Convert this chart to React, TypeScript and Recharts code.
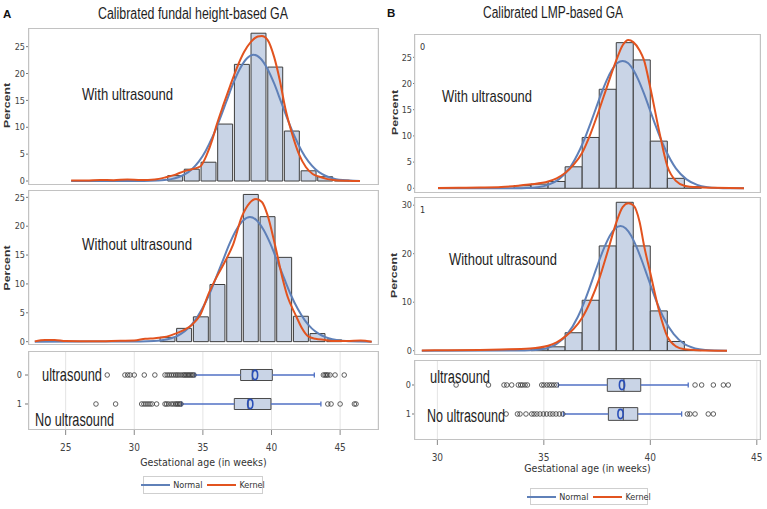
import React from "react";
import {
  ComposedChart,
  Bar,
  Line,
  Scatter,
  XAxis,
  YAxis,
  CartesianGrid,
  ReferenceArea,
  ReferenceLine,
  Legend,
} from "recharts";

const NARROW = "'Liberation Sans Narrow','Arial Narrow','DejaVu Sans Condensed','Liberation Sans',sans-serif";
const SANS = "'Liberation Sans',Arial,sans-serif";

const BAR_FILL = "#c9d4e6";
const BAR_STROKE = "#3e3e3e";
const NORMAL_COLOR = "#5f80b8";
const KERNEL_COLOR = "#e2531f";
const WHISKER_COLOR = "#5071c4";
const MEAN_COLOR = "#2a4fb8";
const GRID_COLOR = "#e4e4e4";

// ---------- Panel A: calibrated fundal height-based GA ----------
const aXTicks = [25, 30, 35, 40, 45];
const aXDomain = [22.33, 47.76];
const aBinWidth = 1.2145;

const aWithBinCenters = [32.97, 34.18, 35.4, 36.61, 37.83, 39.04, 40.26, 41.47, 42.69, 43.9, 45.12];
const aWithBinPercent = [1.0, 2.2, 3.5, 10.6, 21.7, 27.5, 21.2, 9.3, 1.9, 0.8, 0.15];
const aWithNormalX = [25.4, 30.7, 31.7, 32.2, 32.7, 33.2, 33.7, 34.2, 34.7, 35.2, 35.7, 36.2, 36.7, 37.2, 37.7, 38.2, 38.7, 39.2, 39.7, 40.2, 40.7, 41.2, 41.7, 42.2, 42.7, 43.2, 43.7, 44.2, 44.7, 45.2, 45.7, 46.45];
const aWithNormalY = [0, 0.01, 0.08, 0.17, 0.35, 0.69, 1.27, 2.2, 3.6, 5.6, 8.2, 11.3, 14.7, 18.1, 20.9, 22.8, 23.5, 22.8, 20.9, 18.1, 14.7, 11.3, 8.2, 5.6, 3.6, 2.2, 1.27, 0.69, 0.35, 0.17, 0.08, 0];
const aWithKernelX = [25.4, 26.5, 27.5, 28.5, 29.5, 30.5, 31.5, 32.3, 33.0, 33.6, 34.2, 34.8, 35.3, 35.7, 36.0, 36.5, 37.0, 37.5, 38.0, 38.5, 39.0, 39.3, 39.7, 40.2, 40.6, 41.0, 41.5, 42.0, 42.5, 43.0, 43.5, 44.0, 44.5, 45.5, 46.45];
const aWithKernelY = [0.1, 0.1, 0.2, 0.15, 0.3, 0.2, 0.3, 0.7, 1.2, 1.8, 2.2, 2.7, 5.0, 7.8, 10.4, 14.2, 17.8, 21.2, 24.0, 25.9, 26.9, 27.0, 26.3, 23.0, 18.8, 13.6, 8.8, 5.0, 2.6, 1.3, 0.8, 0.4, 0.2, 0.05, 0];

const aWithoutBinCenters = [32.41, 33.62, 34.84, 36.05, 37.27, 38.48, 39.7, 40.91, 42.13, 43.34, 44.56];
const aWithoutBinPercent = [0.75, 2.3, 4.3, 9.9, 14.6, 25.5, 21.65, 14.6, 4.4, 1.4, 0.3];
const aWithoutNormalX = [22.75, 30.43, 31.43, 31.93, 32.43, 32.93, 33.43, 33.93, 34.43, 34.93, 35.43, 35.93, 36.43, 36.93, 37.43, 37.93, 38.43, 38.93, 39.43, 39.93, 40.43, 40.93, 41.43, 41.93, 42.43, 42.93, 43.43, 43.93, 44.43, 44.93, 45.43, 46.43, 47.3];
const aWithoutNormalY = [0, 0.02, 0.1, 0.21, 0.41, 0.78, 1.39, 2.3, 3.7, 5.6, 8.0, 10.9, 13.9, 16.9, 19.35, 21.0, 21.6, 21.0, 19.35, 16.9, 13.9, 10.9, 8.0, 5.6, 3.7, 2.3, 1.39, 0.78, 0.41, 0.21, 0.1, 0.02, 0];
const aWithoutKernelX = [22.75, 23.5, 24.2, 25.0, 27.0, 29.0, 30.0, 30.8, 31.5, 32.2, 33.0, 33.6, 34.2, 34.8, 35.45, 36.0, 36.66, 37.2, 37.83, 38.4, 38.87, 39.3, 39.7, 40.26, 40.8, 41.2, 41.5, 41.8, 42.2, 42.68, 43.2, 43.9, 44.5, 45.5, 46.5, 47.3];
const aWithoutKernelY = [0.05, 0.3, 0.3, 0.1, 0.05, 0.15, 0.2, 0.5, 0.6, 0.8, 1.4, 2.0, 2.9, 4.6, 8.5, 11.2, 14.1, 16.8, 21.6, 24.0, 24.7, 24.2, 22.0, 16.7, 11.0, 7.6, 5.9, 4.4, 2.4, 0.9, 0.5, 0.3, 0.1, 0.1, 0.2, 0];

const boxRows = [0, 1];
const aBoxQ1 = [37.75, 37.29];
const aBoxQ3 = [40.06, 39.96];
const aBoxMedian = [38.6, 38.3];
const aBoxMean = [38.8, 38.45];
const aBoxLow = [34.42, 33.45];
const aBoxHigh = [43.12, 43.6];
const aOutliersRow0 = [28.03, 29.32, 29.52, 29.69, 30.0, 30.73, 31.5, 32.24, 32.4, 32.55, 32.7, 32.85, 33.0, 33.12, 33.25, 33.4, 33.55, 33.65, 33.75, 33.85, 33.95, 34.05, 34.15, 34.25, 34.35, 43.78, 43.9, 44.0, 44.1, 44.26, 44.63, 45.3];
const aOutliersRow1 = [27.21, 28.64, 30.54, 30.7, 30.85, 31.0, 31.15, 31.3, 31.63, 32.24, 32.35, 32.5, 32.7, 32.85, 33.0, 33.1, 33.2, 33.3, 33.4, 44.1, 44.34, 45.0, 46.04, 46.16];

// ---------- Panel B: calibrated LMP-based GA ----------
const bXTicks = [30, 35, 40, 45];
const bXDomain = [28.95, 45.15];
const bBinWidth = 0.8;

const bWithBinCenters = [34.0, 34.8, 35.6, 36.4, 37.2, 38.0, 38.8, 39.6, 40.4, 41.2, 42.0];
const bWithBinPercent = [0.5, 0.8, 1.3, 4.1, 9.7, 18.9, 27.8, 24.5, 9.0, 1.9, 0.3];
const bWithNormalX = [30.03, 33.7, 34.2, 34.7, 35.2, 35.7, 36.2, 36.7, 36.95, 37.2, 37.45, 37.7, 37.95, 38.2, 38.45, 38.7, 38.95, 39.2, 39.45, 39.7, 39.95, 40.2, 40.45, 40.7, 41.2, 41.7, 42.2, 42.7, 43.2, 43.7, 44.4];
const bWithNormalY = [0, 0.014, 0.06, 0.21, 0.65, 1.7, 3.8, 7.45, 9.8, 12.5, 15.3, 18.1, 20.6, 22.6, 23.9, 24.3, 23.9, 22.6, 20.6, 18.1, 15.3, 12.5, 9.8, 7.45, 3.8, 1.7, 0.65, 0.21, 0.06, 0.014, 0];
const bWithKernelX = [30.03, 31.0, 32.0, 33.0, 33.8, 34.4, 35.2, 35.6, 36.0, 36.4, 36.8, 37.2, 37.6, 38.0, 38.4, 38.7, 38.97, 39.2, 39.5, 39.7, 40.0, 40.4, 40.8, 41.2, 41.6, 42.2, 43.0, 44.4];
const bWithKernelY = [0.05, 0.1, 0.15, 0.25, 0.5, 0.75, 1.3, 1.9, 2.9, 4.5, 6.8, 10.5, 15.0, 19.8, 24.4, 27.3, 28.3, 27.9, 26.3, 24.5, 19.2, 11.2, 4.2, 1.4, 0.5, 0.2, 0.1, 0];

const bWithoutBinCenters = [34.8, 35.6, 36.4, 37.2, 38.0, 38.8, 39.6, 40.4, 41.2, 42.0];
const bWithoutBinPercent = [0.4, 0.8, 3.7, 10.4, 21.6, 30.6, 21.6, 8.2, 1.9, 0.1];
const bWithoutNormalX = [29.27, 34.1, 34.6, 35.1, 35.6, 36.1, 36.6, 36.85, 37.1, 37.35, 37.6, 37.85, 38.1, 38.35, 38.6, 38.85, 39.1, 39.35, 39.6, 39.85, 40.1, 40.35, 40.6, 41.1, 41.6, 42.1, 42.6, 43.1, 43.6];
const bWithoutNormalY = [0, 0.035, 0.14, 0.48, 1.38, 3.4, 7.0, 9.5, 12.4, 15.5, 18.6, 21.4, 23.7, 25.2, 25.7, 25.2, 23.7, 21.4, 18.6, 15.5, 12.4, 9.5, 7.0, 3.4, 1.38, 0.48, 0.14, 0.035, 0];
const bWithoutKernelX = [29.27, 30.5, 32.0, 33.0, 34.35, 35.2, 35.6, 36.0, 36.4, 36.8, 37.2, 37.6, 38.0, 38.4, 38.7, 38.97, 39.2, 39.5, 39.7, 40.0, 40.4, 40.8, 41.2, 41.6, 42.2, 43.6];
const bWithoutKernelY = [0.05, 0.1, 0.15, 0.25, 0.45, 1.0, 1.7, 2.9, 4.5, 6.8, 10.3, 14.8, 20.5, 26.4, 29.6, 30.4, 30.0, 26.5, 21.8, 16.0, 8.4, 2.9, 0.9, 0.3, 0.1, 0];

const bBoxQ1 = [37.98, 38.03];
const bBoxQ3 = [39.55, 39.41];
const bBoxMedian = [38.76, 38.73];
const bBoxMean = [38.67, 38.6];
const bBoxLow = [35.68, 35.92];
const bBoxHigh = [41.78, 41.47];
const bOutliersRow0 = [30.88, 32.4, 33.13, 33.26, 33.49, 33.8, 33.91, 34.0, 34.12, 34.23, 34.9, 35.0, 35.14, 35.26, 35.37, 35.48, 35.6, 42.1, 42.41, 42.96, 43.43, 43.66];
const bOutliersRow1 = [33.23, 33.76, 33.88, 34.16, 34.43, 34.54, 34.67, 34.82, 34.98, 35.13, 35.29, 35.42, 35.57, 35.73, 35.89, 41.74, 41.86, 42.1, 42.72, 42.96];

const legendNames = ["Normal", "Kernel"];
const legendColors = [NORMAL_COLOR, KERNEL_COLOR];
const axisTitle = "Gestational age  (in weeks)";

const zip = (xs: number[], ys: number[]) => xs.map((x, i) => ({ x, y: ys[i] }));

function Frame({ left, top, width, height }: any) {
  return (
    <div
      style={{
        position: "absolute",
        left: left - 1,
        top,
        width: width + 2,
        height,
        border: "1.5px solid #c2c2c2",
        boxSizing: "border-box",
        pointerEvents: "none",
      }}
    />
  );
}

function HistChart(p: any) {
  const yAxisW = p.frameLeft - p.left;
  const plotW = p.frameRight - p.frameLeft;
  const width = p.frameRight - p.left + 4;
  const frameH = p.bottom - p.top;
  const pad = 6;
  const barPx = (plotW * p.binWidth) / (p.xDomain[1] - p.xDomain[0]) - 0.05;
  const bins = p.binCenters.map((x: number, i: number) => ({ x, pct: p.binPercent[i] }));
  const normal = zip(p.normalX, p.normalY);
  const kernel = zip(p.kernelX, p.kernelY);
  return (
    <>
      <div style={{ position: "absolute", left: p.left, top: p.top - pad }}>
        <ComposedChart
          width={width}
          height={frameH + 2 * pad}
          data={bins}
          margin={{ top: pad, right: 4, bottom: pad, left: 0 }}
        >
          <CartesianGrid xAxisId="curve" horizontal={false} stroke={GRID_COLOR} />
          <XAxis xAxisId="bins" type="number" dataKey="x" domain={p.xDomain} allowDataOverflow hide />
          <XAxis
            xAxisId="curve"
            type="number"
            dataKey="x"
            domain={p.xDomain}
            ticks={p.xTicks}
            allowDataOverflow
            height={0}
            tick={false}
            tickLine={false}
            axisLine={false}
          />
          <YAxis
            type="number"
            domain={p.yDomain}
            ticks={p.yTicks}
            interval={0}
            allowDataOverflow
            width={yAxisW}
            tickSize={p.tickSize}
            tickMargin={1}
            axisLine={false}
            tickLine={{ stroke: "#777" }}
            tick={{ fontSize: 9, fill: "#444", fontFamily: NARROW }}
          />
          <Bar
            xAxisId="bins"
            dataKey="pct"
            fill={BAR_FILL}
            stroke={BAR_STROKE}
            strokeWidth={1}
            barSize={barPx}
            isAnimationActive={false}
          />
          <Line
            xAxisId="curve"
            data={normal}
            dataKey="y"
            type="monotone"
            stroke={NORMAL_COLOR}
            strokeWidth={2}
            dot={false}
            isAnimationActive={false}
          />
          <Line
            xAxisId="curve"
            data={kernel}
            dataKey="y"
            type="monotone"
            stroke={KERNEL_COLOR}
            strokeWidth={2}
            dot={false}
            isAnimationActive={false}
          />
        </ComposedChart>
      </div>
      <Frame left={p.frameLeft} top={p.top} width={plotW} height={frameH} />
    </>
  );
}

const OutlierShape = (props: any) => (
  <circle cx={props.cx} cy={props.cy} r={2.3} fill="none" stroke="#3a3a3a" strokeWidth={0.8} />
);
const MeanShape = (props: any) => (
  <ellipse cx={props.cx} cy={props.cy} rx={2.6} ry={4.6} fill="none" stroke={MEAN_COLOR} strokeWidth={1.6} />
);

function LegendBox({ width, height, lineW }: any) {
  return (
    <div
      style={{
        width,
        height,
        border: "1px solid #cfcfcf",
        boxSizing: "border-box",
        display: "flex",
        alignItems: "center",
        justifyContent: "center",
        gap: 5,
        fontFamily: NARROW,
        fontSize: 9,
        color: "#333",
        background: "#fff",
      }}
    >
      {legendNames.map((n, i) => (
        <span key={n} style={{ display: "flex", alignItems: "center", gap: 3 }}>
          <span style={{ display: "inline-block", width: lineW, height: 2, background: legendColors[i] }} />
          {n}
        </span>
      ))}
    </div>
  );
}

function BoxChart(p: any) {
  const width = p.frameRight - p.left + 6;
  const height = 509 - p.top;
  const xAxisH = 45;
  const frameH = p.bottom - p.top;
  const marginBottom = height - frameH - xAxisH;
  const outlierPts = [p.outliers0, p.outliers1].flatMap((arr: number[], r: number) =>
    arr.map((x) => ({ x, y: boxRows[r] }))
  );
  const meanPts = boxRows.map((r, i) => ({ x: p.mean[i], y: r }));
  return (
    <>
      <div style={{ position: "absolute", left: p.left, top: p.top }}>
        <ComposedChart width={width} height={height} margin={{ top: 0, right: 6, bottom: marginBottom, left: 0 }}>
          <CartesianGrid horizontal={false} stroke={GRID_COLOR} />
          <XAxis
            type="number"
            dataKey="x"
            domain={p.xDomain}
            ticks={p.xTicks}
            interval={0}
            allowDataOverflow
            height={xAxisH}
            tickSize={5}
            tickMargin={9}
            axisLine={false}
            tickLine={{ stroke: "#888" }}
            tick={{ fontSize: 10, fill: "#444", fontFamily: NARROW }}
            label={{
              value: axisTitle,
              position: "insideBottom",
              offset: p.labelOffset,
              style: { fontSize: 10.5, fill: "#333", fontFamily: NARROW },
            }}
          />
          <YAxis
            type="number"
            dataKey="y"
            domain={p.rowDomain}
            reversed
            ticks={boxRows}
            interval={0}
            allowDataOverflow
            width={p.frameLeft - p.left}
            tickSize={p.tickSize}
            tickMargin={p.tickMargin}
            axisLine={false}
            tickLine={{ stroke: "#777" }}
            tick={{ fontSize: 9, fill: "#444", fontFamily: NARROW }}
          />
          {boxRows.map((r, i) => (
            <ReferenceLine
              key={"wl" + i}
              segment={[{ x: p.low[i], y: r }, { x: p.q1[i], y: r }]}
              stroke={WHISKER_COLOR}
              strokeWidth={1.3}
            />
          ))}
          {boxRows.map((r, i) => (
            <ReferenceLine
              key={"wh" + i}
              segment={[{ x: p.q3[i], y: r }, { x: p.high[i], y: r }]}
              stroke={WHISKER_COLOR}
              strokeWidth={1.3}
            />
          ))}
          {boxRows.map((r, i) => (
            <ReferenceLine
              key={"cl" + i}
              segment={[{ x: p.low[i], y: r - 0.09 }, { x: p.low[i], y: r + 0.09 }]}
              stroke={WHISKER_COLOR}
              strokeWidth={1.3}
            />
          ))}
          {boxRows.map((r, i) => (
            <ReferenceLine
              key={"ch" + i}
              segment={[{ x: p.high[i], y: r - 0.09 }, { x: p.high[i], y: r + 0.09 }]}
              stroke={WHISKER_COLOR}
              strokeWidth={1.3}
            />
          ))}
          {boxRows.map((r, i) => (
            <ReferenceArea
              key={"box" + i}
              x1={p.q1[i]}
              x2={p.q3[i]}
              y1={r - p.halfH}
              y2={r + p.halfH}
              fill={BAR_FILL}
              fillOpacity={1}
              stroke="#4a4a4a"
              strokeWidth={1}
            />
          ))}
          {boxRows.map((r, i) => (
            <ReferenceLine
              key={"med" + i}
              segment={[{ x: p.median[i], y: r - p.halfH }, { x: p.median[i], y: r + p.halfH }]}
              stroke="#4a4a4a"
              strokeWidth={1}
            />
          ))}
          <Scatter data={outlierPts} shape={OutlierShape} isAnimationActive={false} />
          <Scatter data={meanPts} shape={MeanShape} isAnimationActive={false} />
          <Legend
            layout="horizontal"
            verticalAlign="middle"
            align="center"
            wrapperStyle={{ left: p.legendLeft - p.left, top: p.legendTop - p.top, width: p.legendW, height: p.legendH }}
            content={() => <LegendBox width={p.legendW} height={p.legendH} lineW={29} />}
          />
        </ComposedChart>
      </div>
      <Frame left={p.frameLeft} top={p.top} width={p.frameRight - p.frameLeft} height={frameH} />
    </>
  );
}

function Overlay() {
  const t = { fontFamily: SANS, fill: "#1e1e1e", lengthAdjust: "spacingAndGlyphs" } as any;
  const pct = (cx: number, cy: number) => (
    <text
      transform={`translate(${cx},${cy}) rotate(-90)`}
      textAnchor="middle"
      dy="0.35em"
      fontSize={8.5}
      fontWeight="bold"
      textLength={45}
      lengthAdjust="spacingAndGlyphs"
      fontFamily={SANS}
      fill="#333"
    >
      Percent
    </text>
  );
  return (
    <svg width={767} height={509} style={{ position: "absolute", left: 0, top: 0, pointerEvents: "none" }}>
      <text x={3} y={17.5} fontSize={11.5} fontWeight="bold" fontFamily={SANS} fill="#111">A</text>
      <text x={387} y={17} fontSize={11.5} fontWeight="bold" fontFamily={SANS} fill="#111">B</text>
      <text x={98} y={19} fontSize={16} textLength={190} {...t}>Calibrated fundal height-based GA</text>
      <text x={483} y={18} fontSize={16} textLength={140} {...t}>Calibrated LMP-based GA</text>
      <text x={82} y={100} fontSize={17} textLength={91} {...t}>With ultrasound</text>
      <text x={82} y={250} fontSize={17} textLength={110} {...t}>Without ultrasound</text>
      <text x={42} y={381} fontSize={19} textLength={60} {...t}>ultrasound</text>
      <text x={35} y={426} fontSize={19} textLength={79} {...t}>No ultrasound</text>
      <text x={442} y={102} fontSize={17} textLength={90} {...t}>With ultrasound</text>
      <text x={449} y={265} fontSize={17} textLength={108} {...t}>Without ultrasound</text>
      <text x={430} y={383} fontSize={18} textLength={60} {...t}>ultrasound</text>
      <text x={427} y={422} fontSize={18} textLength={78} {...t}>No ultrasound</text>
      <text x={420} y={50} fontSize={9} fontFamily={NARROW} fill="#333">0</text>
      <text x={420} y={213} fontSize={9} fontFamily={NARROW} fill="#333">1</text>
      {pct(7.5, 105.5)}
      {pct(7.5, 268)}
      {pct(395.5, 112.5)}
      {pct(394.5, 275.5)}
    </svg>
  );
}

export default function App() {
  return (
    <div style={{ position: "absolute", left: 0, top: 0, width: 767, height: 509, background: "#fff", overflow: "hidden" }}>
      <HistChart
        left={0} frameLeft={29} frameRight={378} top={28} bottom={185}
        xDomain={aXDomain} xTicks={aXTicks} yDomain={[-0.74, 28.47]} yTicks={[0, 5, 10, 15, 20, 25]} tickSize={3}
        binCenters={aWithBinCenters} binPercent={aWithBinPercent} binWidth={aBinWidth}
        normalX={aWithNormalX} normalY={aWithNormalY} kernelX={aWithKernelX} kernelY={aWithKernelY}
      />
      <HistChart
        left={0} frameLeft={29} frameRight={378} top={190} bottom={345}
        xDomain={aXDomain} xTicks={aXTicks} yDomain={[-0.58, 26.27]} yTicks={[0, 5, 10, 15, 20, 25]} tickSize={3}
        binCenters={aWithoutBinCenters} binPercent={aWithoutBinPercent} binWidth={aBinWidth}
        normalX={aWithoutNormalX} normalY={aWithoutNormalY} kernelX={aWithoutKernelX} kernelY={aWithoutKernelY}
      />
      <BoxChart
        left={0} frameLeft={29} frameRight={378} top={351} bottom={430}
        xDomain={aXDomain} xTicks={aXTicks} rowDomain={[-0.828, 1.897]} halfH={0.19} tickSize={4} tickMargin={3}
        q1={aBoxQ1} q3={aBoxQ3} median={aBoxMedian} mean={aBoxMean} low={aBoxLow} high={aBoxHigh}
        outliers0={aOutliersRow0} outliers1={aOutliersRow1} labelOffset={9}
        legendLeft={143} legendTop={476} legendW={120} legendH={18}
      />
      <HistChart
        left={380} frameLeft={415} frameRight={760} top={34} bottom={193}
        xDomain={bXDomain} xTicks={bXTicks} yDomain={[-0.9, 29.45]} yTicks={[0, 5, 10, 15, 20, 25]} tickSize={2}
        binCenters={bWithBinCenters} binPercent={bWithBinPercent} binWidth={bBinWidth}
        normalX={bWithNormalX} normalY={bWithNormalY} kernelX={bWithKernelX} kernelY={bWithKernelY}
      />
      <HistChart
        left={380} frameLeft={415} frameRight={760} top={197} bottom={355}
        xDomain={bXDomain} xTicks={bXTicks} yDomain={[-0.89, 31.69]} yTicks={[0, 10, 20, 30]} tickSize={2}
        binCenters={bWithoutBinCenters} binPercent={bWithoutBinPercent} binWidth={bBinWidth}
        normalX={bWithoutNormalX} normalY={bWithoutNormalY} kernelX={bWithoutKernelX} kernelY={bWithoutKernelY}
      />
      <BoxChart
        left={380} frameLeft={415} frameRight={760} top={360} bottom={440}
        xDomain={bXDomain} xTicks={bXTicks} rowDomain={[-0.862, 1.897]} halfH={0.22} tickSize={3} tickMargin={1}
        q1={bBoxQ1} q3={bBoxQ3} median={bBoxMedian} mean={bBoxMean} low={bBoxLow} high={bBoxHigh}
        outliers0={bOutliersRow0} outliers1={bOutliersRow1} labelOffset={13}
        legendLeft={530} legendTop={488} legendW={118} legendH={17}
      />
      <Overlay />
    </div>
  );
}
